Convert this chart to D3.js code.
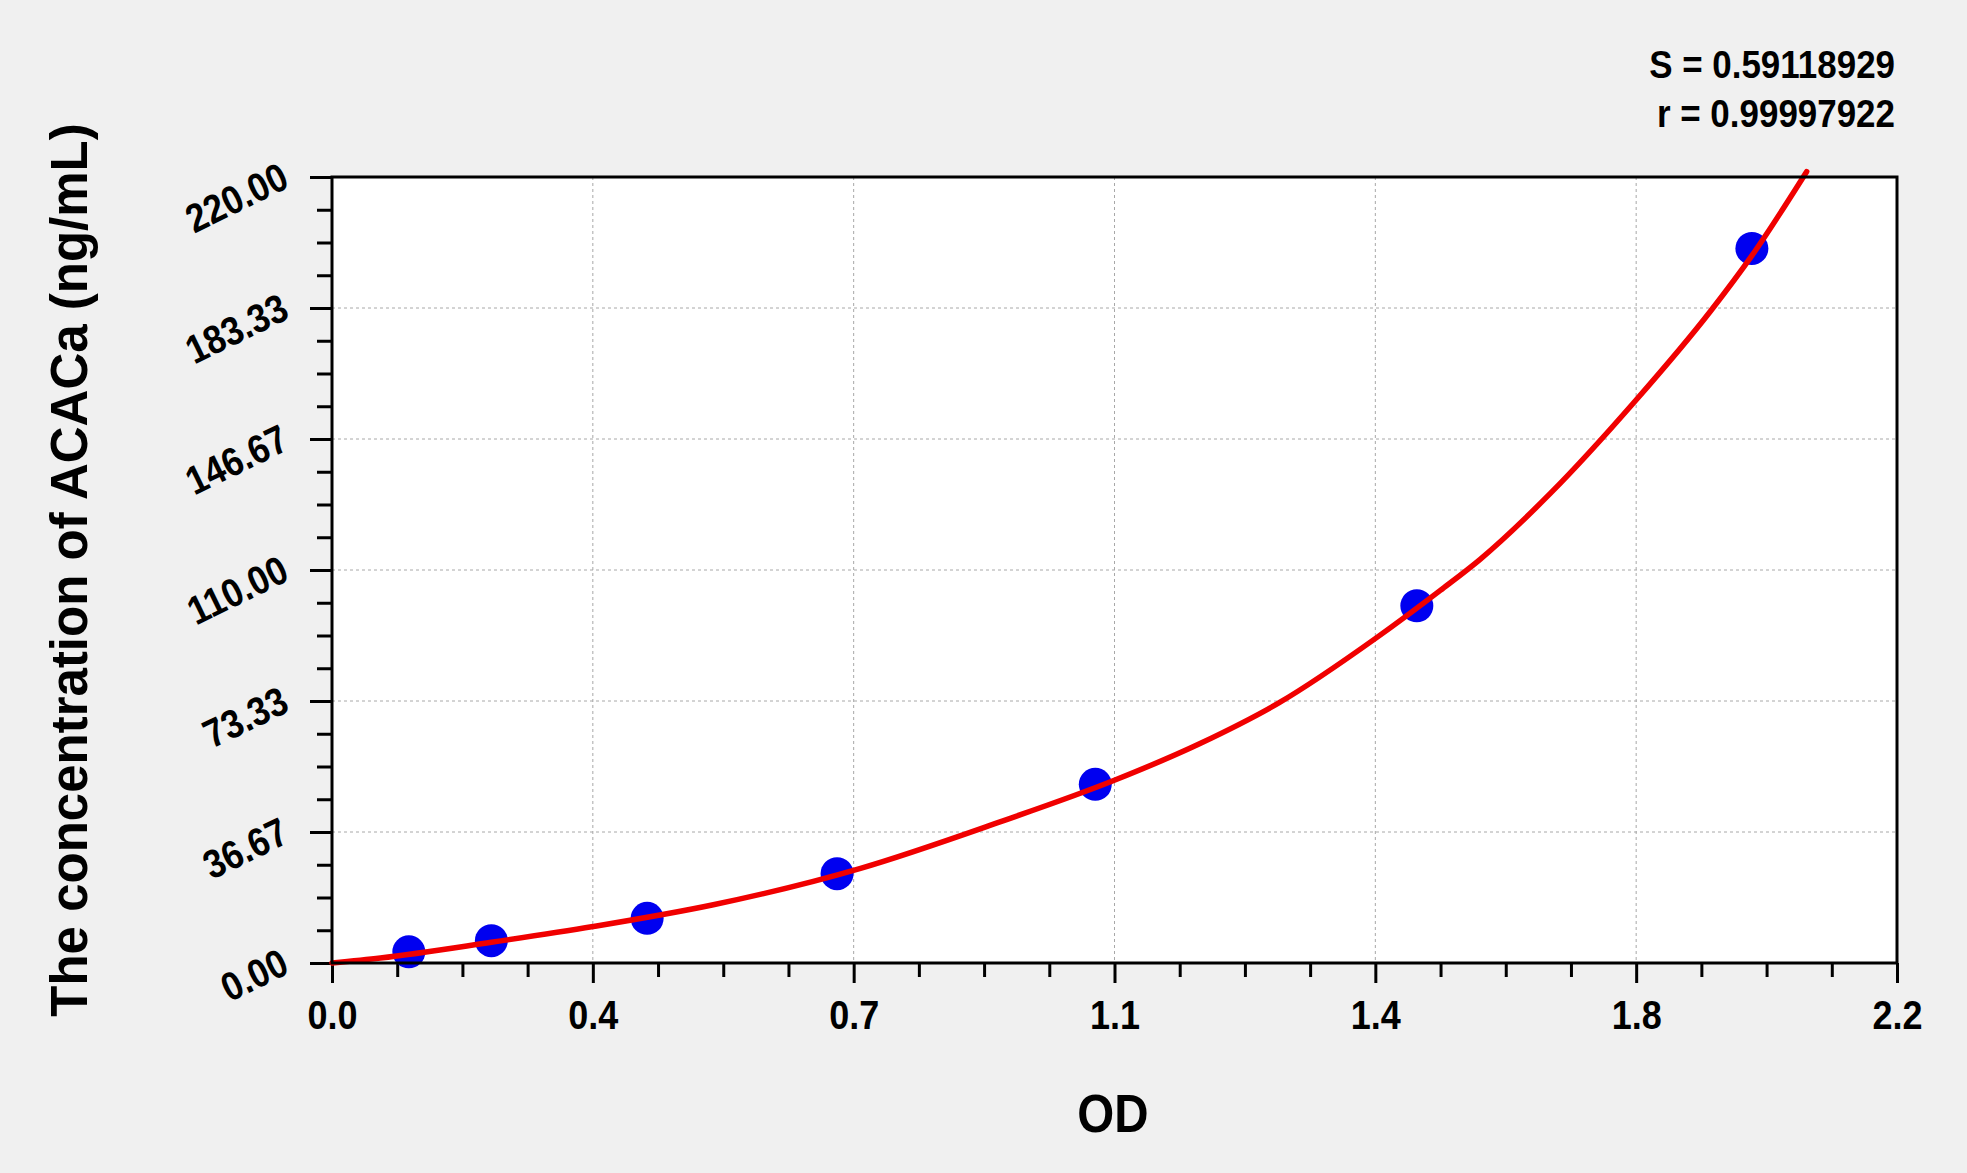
<!DOCTYPE html>
<html>
<head>
<meta charset="utf-8">
<script src="https://cdn.jsdelivr.net/npm/d3@7"></script>
<style>
  html, body { margin: 0; padding: 0; background: #f0f0f0; }
  svg { display: block; }
  text { font-family: "Liberation Sans", Arial, sans-serif; font-weight: bold; fill: #000; }
</style>
</head>
<body>
<svg id="chart" width="1967" height="1173"></svg>
<script>
// ---- data ----
const odValues   = [0.108, 0.224, 0.443, 0.710, 1.073, 1.525, 1.996];
const concValues = [3.12, 6.25, 12.5, 25, 50, 100, 200];

// fitted curve
const curveOD   = [0, 0.068, 0.224, 0.367, 0.536, 0.743, 0.939, 1.098, 1.221, 1.331, 1.468, 1.558, 1.614, 1.713, 1.832, 1.938, 1.996, 2.073];
const curveConc = [0, 1.4, 5.8, 10.2, 16.3, 26.5, 39.5, 51.0, 61.5, 72.8, 91.0, 104.3, 113.0, 131.5, 157.3, 182.5, 198.0, 221.5];

const xTickLabels = ["0.0", "0.4", "0.7", "1.1", "1.4", "1.8", "2.2"];
const yTickLabels = ["0.00", "36.67", "73.33", "110.00", "146.67", "183.33", "220.00"];
const statLines = ["S = 0.59118929", "r = 0.99997922"];
const xTitle = "OD";
const yTitle = "The concentration of ACACa (ng/mL)";

// ---- layout ----
const W = 1967, H = 1173;
const L = 332, R = 1897, T = 177, B = 963;
const xMax = 2.2, yMax = 220;

const svg = d3.select("#chart");
svg.append("rect").attr("width", W).attr("height", H).attr("fill", "#f0f0f0");

const x = d3.scaleLinear().domain([0, xMax]).range([L, R]);
const y = d3.scaleLinear().domain([0, yMax]).range([B, T]);

const xMajor = d3.range(0, xTickLabels.length).map(i => i * xMax / (xTickLabels.length - 1));
const yMajor = d3.range(0, yTickLabels.length).map(i => i * yMax / (yTickLabels.length - 1));
const xMinor = d3.range(0, 25).map(i => i * xMax / 24).filter((d, i) => i % 4 !== 0);
const yMinor = d3.range(0, 25).map(i => i * yMax / 24).filter((d, i) => i % 4 !== 0);

// plot background
svg.append("rect").attr("x", L).attr("y", T).attr("width", R - L).attr("height", B - T).attr("fill", "#ffffff");

// grid
const grid = svg.append("g").attr("stroke", "#a8a8a8").attr("stroke-width", 1).attr("stroke-dasharray", "3,3");
grid.selectAll("line.v").data(xMajor.slice(1, -1)).join("line")
  .attr("x1", d => x(d)).attr("x2", d => x(d)).attr("y1", T).attr("y2", B);
grid.selectAll("line.h").data(yMajor.slice(1, -1)).join("line")
  .attr("y1", d => y(d)).attr("y2", d => y(d)).attr("x1", L).attr("x2", R);

// axes
function styleAxis(g) {
  g.select(".domain").remove();
  g.selectAll(".tick line").attr("stroke", "#000").attr("stroke-width", 3);
}
const gxMinor = svg.append("g").attr("transform", `translate(0,${B})`)
  .call(d3.axisBottom(x).tickValues(xMinor).tickSize(14).tickSizeOuter(0).tickFormat(""));
styleAxis(gxMinor);
const gx = svg.append("g").attr("transform", `translate(0,${B})`)
  .call(d3.axisBottom(x).tickValues(xMajor).tickSize(20).tickSizeOuter(0).tickFormat((d, i) => xTickLabels[i]));
styleAxis(gx);
gx.selectAll(".tick text")
  .attr("y", 66).attr("dy", null)
  .attr("font-size", 40).attr("font-family", "Liberation Sans, Arial, sans-serif").attr("font-weight", "bold")
  .attr("fill", "#000").attr("text-anchor", "middle")
  .attr("transform", "scale(0.9,1)");

const gyMinor = svg.append("g").attr("transform", `translate(${L},0)`)
  .call(d3.axisLeft(y).tickValues(yMinor).tickSize(15).tickSizeOuter(0).tickFormat(""));
styleAxis(gyMinor);
const gy = svg.append("g").attr("transform", `translate(${L},0)`)
  .call(d3.axisLeft(y).tickValues(yMajor).tickSize(22).tickSizeOuter(0).tickFormat((d, i) => yTickLabels[i]));
styleAxis(gy);
gy.selectAll(".tick text")
  .attr("x", 0).attr("y", 0).attr("dy", null)
  .attr("font-size", 40).attr("font-family", "Liberation Sans, Arial, sans-serif").attr("font-weight", "bold")
  .attr("fill", "#000").attr("text-anchor", "end")
  .attr("transform", "translate(-41,9) rotate(-26) scale(0.88,1)");

// points
svg.append("g").selectAll("circle").data(odValues.map((d, i) => [d, concValues[i]])).join("circle")
  .attr("cx", d => x(d[0])).attr("cy", d => y(d[1])).attr("r", 16.5).attr("fill", "#0000f0");

// fitted curve
const line = d3.line().x(d => x(d[0])).y(d => y(d[1])).curve(d3.curveMonotoneX);
svg.append("path").datum(curveOD.map((d, i) => [d, curveConc[i]]))
  .attr("d", line).attr("fill", "none").attr("stroke", "#f00000").attr("stroke-width", 5.5)
  .attr("stroke-linecap", "round").attr("stroke-linejoin", "round");

// plot border
svg.append("rect").attr("x", L).attr("y", T).attr("width", R - L).attr("height", B - T)
  .attr("fill", "none").attr("stroke", "#000").attr("stroke-width", 3);

// stats
svg.append("g").selectAll("text").data(statLines).join("text")
  .attr("transform", (d, i) => `translate(1895,${78 + i * 49}) scale(0.92,1)`)
  .attr("text-anchor", "end").attr("font-size", 38).text(d => d);

// axis titles
svg.append("text").attr("transform", `translate(1113,1132) scale(0.88,1)`)
  .attr("text-anchor", "middle").attr("font-size", 54).text(xTitle);
svg.append("text").attr("transform", `translate(87,${(T + B) / 2}) rotate(-90)`)
  .attr("text-anchor", "middle").attr("font-size", 51).text(yTitle);
</script>
</body>
</html>
